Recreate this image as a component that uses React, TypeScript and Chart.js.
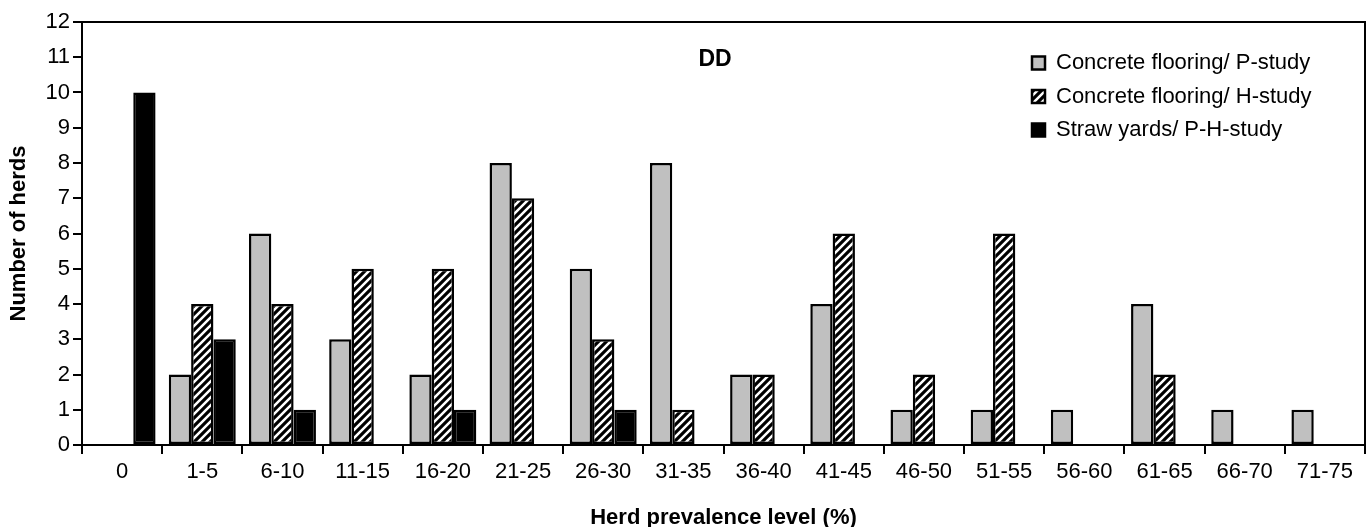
import React, { useEffect, useRef } from 'react';
import { Chart, registerables } from 'chart.js';

Chart.register(...registerables);

const categories = ['0', '1-5', '6-10', '11-15', '16-20', '21-25', '26-30', '31-35', '36-40', '41-45', '46-50', '51-55', '56-60', '61-65', '66-70', '71-75'];
const seriesLabels = ['Concrete flooring/ P-study', 'Concrete flooring/ H-study', 'Straw yards/ P-H-study'];
const concreteP = [0, 2, 6, 3, 2, 8, 5, 8, 2, 4, 1, 1, 1, 4, 1, 1];
const concreteH = [0, 4, 4, 5, 5, 7, 3, 1, 2, 6, 2, 6, 0, 2, 0, 0];
const strawPH = [10, 3, 1, 0, 1, 0, 1, 0, 0, 0, 0, 0, 0, 0, 0, 0];
const yMin = 0;
const yMax = 12;
const yStep = 1;
const panelTitle = 'DD';
const xTitle = 'Herd prevalence level (%)';
const yTitle = 'Number of herds';

const FONT = "'Liberation Sans', Arial, Helvetica, sans-serif";

function makeHatch(): CanvasPattern | string {
  const s = 8;
  const c = document.createElement('canvas');
  c.width = s;
  c.height = s;
  const g = c.getContext('2d');
  if (!g) return '#000';
  g.fillStyle = '#000';
  g.fillRect(0, 0, s, s);
  g.strokeStyle = '#fff';
  g.lineWidth = 2.5;
  g.beginPath();
  g.moveTo(-2, s + 2); g.lineTo(s + 2, -2);
  g.moveTo(-2, 2); g.lineTo(2, -2);
  g.moveTo(s - 2, s + 2); g.lineTo(s + 2, s - 2);
  g.stroke();
  const p = g.createPattern(c, 'repeat');
  return p || '#000';
}

const framePlugin = {
  id: 'frame',
  afterDatasetsDraw(chart: any) {
    const { ctx, chartArea } = chart;
    const { left, top, right, bottom } = chartArea;
    ctx.save();
    ctx.strokeStyle = '#000';
    ctx.lineWidth = 2;
    ctx.strokeRect(Math.round(left), Math.round(top), Math.round(right - left), Math.round(bottom - top));
    ctx.restore();
  },
};

const panelTitlePlugin = {
  id: 'panelTitle',
  afterDraw(chart: any) {
    const { ctx } = chart;
    ctx.save();
    ctx.font = `bold 23px ${FONT}`;
    ctx.fillStyle = '#000';
    ctx.textAlign = 'center';
    ctx.textBaseline = 'middle';
    ctx.fillText(panelTitle, 715, 60);
    ctx.restore();
  },
};

const legendPlacer = {
  id: 'legendPlacer',
  beforeDraw(chart: any) {
    const lg = chart.legend;
    if (!lg) return;
    const w = lg.width;
    const h = lg.height;
    lg.left = 1020.5;
    lg.top = 40.5;
    lg.right = lg.left + w + 40;
    lg.bottom = lg.top + Math.min(h, 200);
  },
};

export default function App() {
  const ref = useRef<HTMLCanvasElement | null>(null);

  useEffect(() => {
    if (!ref.current) return;
    const hatch = makeHatch();
    const chart = new Chart(ref.current, {
      type: 'bar',
      data: {
        labels: categories,
        datasets: [
          { label: seriesLabels[0], data: concreteP, backgroundColor: '#c0c0c0', borderColor: '#000', borderWidth: 2.5, borderSkipped: false },
          { label: seriesLabels[1], data: concreteH, backgroundColor: hatch as any, borderColor: '#000', borderWidth: 2.5, borderSkipped: false },
          { label: seriesLabels[2], data: strawPH, backgroundColor: '#000', borderColor: '#000', borderWidth: 2.5, borderSkipped: false },
        ],
      },
      options: {
        responsive: false,
        animation: false,
        events: [],
        layout: { padding: { top: 22, right: 2, left: 0, bottom: 0 } },
        datasets: { bar: { categoryPercentage: 0.835, barPercentage: 1.0 } },
        plugins: {
          legend: {
            position: 'chartArea' as any,
            align: 'start',
            labels: {
              boxWidth: 13,
              boxHeight: 13,
              padding: 11.5,
              color: '#000',
              font: { family: FONT, size: 22 },
            },
          },
          title: { display: false },
          tooltip: { enabled: false },
        },
        scales: {
          x: {
            offset: true,
            grid: { display: true, offset: true, drawOnChartArea: false, drawTicks: true, tickLength: 9, color: '#000', lineWidth: 2 },
            border: { display: true, color: '#000', width: 2 },
            ticks: { color: '#000', padding: 5, maxRotation: 0, autoSkip: false, font: { family: FONT, size: 22 } },
            title: { display: true, text: xTitle, color: '#000', padding: { top: 0, bottom: 0 }, font: { family: FONT, size: 22, weight: 'bold', lineHeight: 0.86 } },
            afterFit(scale: any) { scale.height = 82; },
          },
          y: {
            min: yMin,
            max: yMax,
            grid: { display: true, drawOnChartArea: false, drawTicks: true, tickLength: 9, color: '#000', lineWidth: 2 },
            border: { display: true, color: '#000', width: 2 },
            ticks: { stepSize: yStep, color: '#000', padding: 3, font: { family: FONT, size: 22 } },
            title: { display: true, text: yTitle, color: '#000', padding: { top: 6, bottom: 0 }, font: { family: FONT, size: 22, weight: 'bold', lineHeight: 1.2 } },
            afterFit(scale: any) { scale.width = 82; },
          },
        },
      },
      plugins: [framePlugin, panelTitlePlugin, legendPlacer],
    });
    return () => chart.destroy();
  }, []);

  return (
    <div style={{ position: 'fixed', left: 0, top: 0, width: 1367, height: 527, background: '#fff' }}>
      <canvas ref={ref} width={1367} height={527} style={{ display: 'block' }} />
    </div>
  );
}
